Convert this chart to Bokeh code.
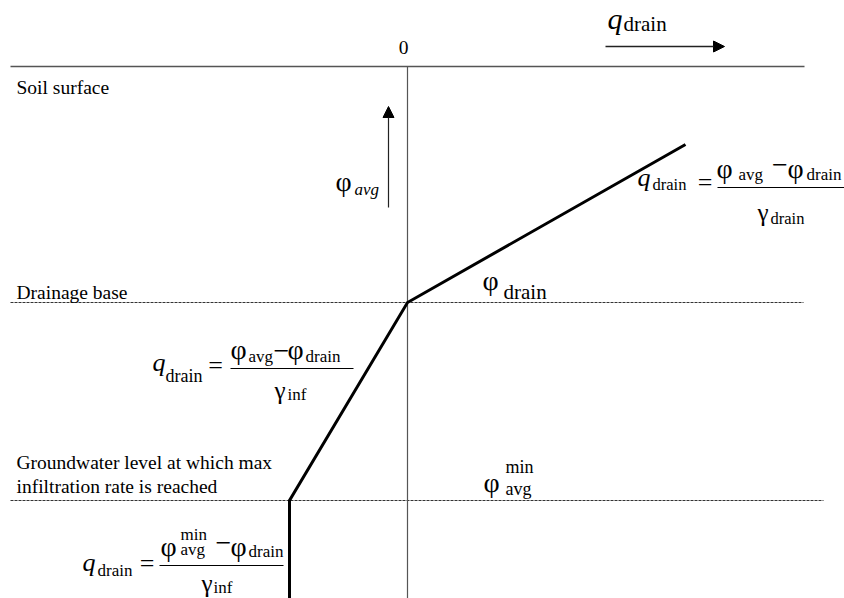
from bokeh.plotting import figure
from bokeh.models import Range1d, Arrow, NormalHead, ColumnDataSource
from bokeh.core.properties import value
from bokeh.embed import file_html
from bokeh.resources import INLINE

# ---- data (q_drain horizontal, phi vertical; q=0 at axis, phi=0 at drainage base)
level_names = ["Soil surface", "Drainage base", "Groundwater min"]
level_phi = [236, 0, -198]
level_q_start = [-397, -397, -397]
level_q_end = [397, 396, 416]

curve_q = [-118, -118, 0, 278]
curve_phi = [-300, -198, 0, 158]

axis_phi = [236, -300]

W, H = 844, 598
p = figure(width=W, height=H, output_backend="svg", toolbar_location=None,
           x_range=Range1d(-407, 437), y_range=Range1d(-296, 302),
           min_border=0, outline_line_color=None, background_fill_color="white",
           border_fill_color="white")
p.axis.visible = False
p.xgrid.visible = False
p.ygrid.visible = False

FONT_V = value("Liberation Serif")

def X(px):
    return px - 407

def Y(py):
    return 302 - py

# levels
solid = ColumnDataSource(dict(x0=[level_q_start[0]], x1=[level_q_end[0]],
                              y=[level_phi[0]]))
p.segment(x0="x0", y0="y", x1="x1", y1="y", source=solid,
          line_color="#555555", line_width=1.5)
dashed = ColumnDataSource(dict(x0=level_q_start[1:], x1=level_q_end[1:],
                               y=level_phi[1:]))
p.segment(x0="x0", y0="y", x1="x1", y1="y", source=dashed,
          line_color="#333333", line_width=1, line_dash="3 1")

# vertical axis (q = 0)
p.line(x=[0, 0], y=axis_phi, line_color="#555555", line_width=1.2)

# drainage curve
p.line(x=curve_q, y=curve_phi, line_color="black", line_width=3,
       line_join="miter")

# arrows
p.add_layout(Arrow(end=NormalHead(size=11, fill_color="black", line_color="black"),
                   x_start=X(605), y_start=Y(46), x_end=X(724), y_end=Y(46),
                   line_color="#222222", line_width=1.5))
p.add_layout(Arrow(end=NormalHead(size=11, fill_color="black", line_color="black"),
                   x_start=X(388), y_start=Y(207), x_end=X(388), y_end=Y(106),
                   line_color="#222222", line_width=1.2))

def t(txt, px, base, size, italic=False, align="left"):
    s = float(size)
    cy = base - 0.33 * s
    p.text(x=[X(px)], y=[Y(cy)], text=[txt], text_font=FONT_V,
           text_font_size=f"{s}px", text_font_style="italic" if italic else "normal",
           text_align=align, text_baseline="middle", text_color="black")

PHI = "\u03c6"
GAM = "\u03b3"
MINUS = "\u2212"
PS = 28   # phi size
GS = 25   # gamma size
MS = 28   # minus size

BODY = 19.5
t("0", 403, 53, BODY, align="center")
t("Soil surface", 16, 93, BODY)
t("Drainage base", 16, 298, BODY)
t("Groundwater level at which max", 16, 468, BODY)
t("infiltration rate is reached", 16, 492, BODY)

# top axis label q_drain
t("q", 607, 28, 30, italic=True)
t("drain", 623, 30, 21)

# phi_avg label by vertical arrow
t(PHI, 335, 190, PS)
t("avg", 354, 195, 17, italic=True)

# phi_drain label
t(PHI, 482, 289, PS)
t("drain", 503, 298, 21)

# phi_avg^min label
t(PHI, 483, 491, PS)
t("min", 505, 472, 18)
t("avg", 505, 494, 18)

def frac_line(x0, x1, py):
    p.line(x=[X(x0), X(x1)], y=[Y(py), Y(py)], line_color="black", line_width=1.2)

# right formula
t("q", 637, 186, 26, italic=True)
t("drain", 652, 189, 16.5)
t("=", 704.5, 191, 26, align="center")
frac_line(717, 850, 187)
t(PHI, 716, 177, PS)
t("avg", 738, 180, 17)
t(MINUS, 779.5, 174, MS, align="center")
t(PHI, 787, 177, PS)
t("drain", 806, 180, 17)
t(GAM, 757, 220, GS)
t("drain", 770, 223, 16.5)

# middle formula
t("q", 152, 371, 26, italic=True)
t("drain", 165, 381, 18)
t("=", 215, 373.5, 26, align="center")
frac_line(230, 353, 368)
t(PHI, 230, 358.5, PS)
t("avg", 248, 362, 17)
t(MINUS, 281, 360, MS, align="center")
t(PHI, 287, 358.5, PS)
t("drain", 305, 362, 17)
t(GAM, 274, 398, GS)
t("inf", 287, 400, 17)

# bottom formula
t("q", 82, 571, 26, italic=True)
t("drain", 97, 576, 17)
t("=", 146.5, 571.5, 26, align="center")
frac_line(159, 283, 565)
t(PHI, 160, 555, PS)
t("min", 180, 540, 17)
t("avg", 180, 555, 17)
t(MINUS, 223, 552, MS, align="center")
t(PHI, 230, 555, PS)
t("drain", 248, 557, 17)
t(GAM, 201, 591, GS)
t("inf", 213, 593, 17)

open("out.html", "w").write(file_html(p, INLINE))
